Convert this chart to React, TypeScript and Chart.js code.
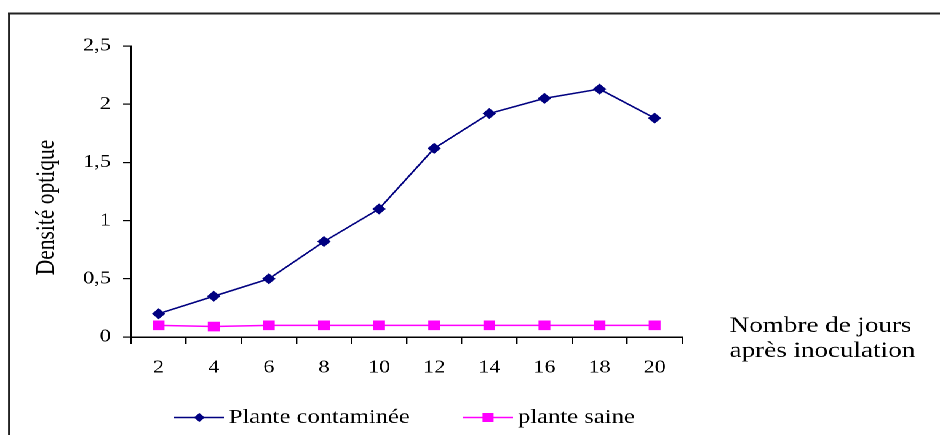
import React, { useEffect, useRef } from 'react';
import { Chart, registerables } from 'chart.js';

Chart.register(...registerables);

const categories = ['2', '4', '6', '8', '10', '12', '14', '16', '18', '20'];
const contamineeValues = [0.2, 0.35, 0.5, 0.82, 1.1, 1.62, 1.92, 2.05, 2.13, 1.88];
const saineValues = [0.1, 0.09, 0.1, 0.1, 0.1, 0.1, 0.1, 0.1, 0.1, 0.1];
const seriesLabels = ['Plante contaminée', 'plante saine'];
const yTitle = 'Densité optique';
const xTitleLines = ['Nombre de jours', 'après inoculation'];

const W = 764;
const H = 435;
const SX = 940 / W;
const FONT = '"Liberation Serif", "Times New Roman", serif';

const decorPlugin = {
  id: 'decor',
  afterDraw(chart: any) {
    const ctx: CanvasRenderingContext2D = chart.ctx;
    ctx.save();
    // frame
    ctx.strokeStyle = '#222';
    ctx.lineWidth = 1.7;
    ctx.beginPath();
    ctx.moveTo(7.4, H + 5);
    ctx.lineTo(7.4, 13.5);
    ctx.stroke();
    ctx.lineWidth = 2;
    ctx.beginPath();
    ctx.moveTo(6.5, 13.5);
    ctx.lineTo(W + 5, 13.5);
    ctx.stroke();

    // y title
    ctx.fillStyle = '#000';
    ctx.font = `21.5px ${FONT}`;
    ctx.textAlign = 'center';
    ctx.textBaseline = 'middle';
    ctx.save();
    ctx.translate(38, 207.5);
    ctx.rotate(-Math.PI / 2);
    ctx.fillText(yTitle, 0, 0);
    ctx.restore();

    // x title
    ctx.font = `22px ${FONT}`;
    ctx.textAlign = 'left';
    ctx.fillText(xTitleLines[0], 593, 326);
    ctx.fillText(xTitleLines[1], 593, 351);

    // legend
    const items = [
      { x0: 141.5, x1: 182, px: 162, tx: 186 },
      { x0: 376.5, x1: 417, px: 396.7, tx: 421 },
    ];
    const ly = 417.5;
    chart.data.datasets.forEach((ds: any, i: number) => {
      const it = items[i];
      ctx.strokeStyle = ds.borderColor;
      ctx.lineWidth = 1.6;
      ctx.beginPath();
      ctx.moveTo(it.x0, ly);
      ctx.lineTo(it.x1, ly);
      ctx.stroke();
      ctx.fillStyle = ds.pointBackgroundColor;
      if (ds.pointStyle === 'rectRot') {
        ctx.beginPath();
        ctx.moveTo(it.px - 4.5, ly);
        ctx.lineTo(it.px, ly - 4.5);
        ctx.lineTo(it.px + 4.5, ly);
        ctx.lineTo(it.px, ly + 4.5);
        ctx.closePath();
        ctx.fill();
      } else {
        ctx.fillRect(it.px - 4.5, ly - 4.5, 9, 9);
      }
      ctx.fillStyle = '#000';
      ctx.font = `20px ${FONT}`;
      ctx.textAlign = 'left';
      ctx.textBaseline = 'middle';
      ctx.fillText(ds.label, it.tx, ly);
    });
    ctx.restore();
  },
};

export default function App() {
  const ref = useRef<HTMLCanvasElement | null>(null);

  useEffect(() => {
    if (!ref.current) return;
    const chart = new Chart(ref.current, {
      type: 'line',
      data: {
        labels: categories,
        datasets: [
          {
            label: seriesLabels[0],
            data: contamineeValues,
            borderColor: '#000080',
            backgroundColor: '#000080',
            pointBackgroundColor: '#000080',
            pointBorderColor: '#000080',
            pointStyle: 'rectRot',
            pointRadius: 5.5,
            pointBorderWidth: 0,
            borderWidth: 1.5,
            tension: 0,
          },
          {
            label: seriesLabels[1],
            data: saineValues,
            borderColor: '#ff00ff',
            backgroundColor: '#ff00ff',
            pointBackgroundColor: '#ff00ff',
            pointBorderColor: '#ff00ff',
            pointStyle: 'rect',
            pointRadius: 6.8,
            pointBorderWidth: 0,
            borderWidth: 1.5,
            tension: 0,
          },
        ],
      },
      options: {
        animation: false,
        responsive: false,
        devicePixelRatio: 2,
        layout: { padding: { left: 0, top: 46, right: W - 554.5, bottom: 0 } },
        plugins: {
          legend: { display: false },
          tooltip: { enabled: false },
        },
        scales: {
          x: {
            type: 'category',
            offset: true,
            grid: {
              offset: true,
              drawOnChartArea: false,
              drawTicks: true,
              tickLength: 7,
              color: '#000',
              lineWidth: 1.2,
            },
            border: { display: true, color: '#000', width: 1.5 },
            ticks: {
              color: '#000',
              font: { family: FONT, size: 18 },
              padding: 13,
              maxRotation: 0,
              autoSkip: false,
            },
            afterFit(scale: any) {
              scale.height = H - 337;
            },
          },
          y: {
            min: 0,
            max: 2.5,
            grid: {
              drawOnChartArea: false,
              drawTicks: true,
              tickLength: 6.5,
              color: '#000',
              lineWidth: 1.2,
            },
            border: { display: true, color: '#000', width: 1.5 },
            ticks: {
              stepSize: 0.5,
              color: '#000',
              font: { family: FONT, size: 18 },
              padding: 10,
              callback: (v: any) => String(v).replace('.', ','),
            },
            afterFit(scale: any) {
              scale.width = 106.5;
            },
          },
        },
      },
      plugins: [decorPlugin],
    });
    return () => chart.destroy();
  }, []);

  return (
    <div
      style={{
        position: 'fixed',
        left: 0,
        top: 0,
        width: W,
        height: H,
        overflow: 'hidden',
        background: '#fff',
        transform: `scaleX(${SX})`,
        transformOrigin: '0 0',
      }}
    >
      <canvas ref={ref} width={W} height={H} style={{ display: 'block', width: W, height: H }} />
    </div>
  );
}
